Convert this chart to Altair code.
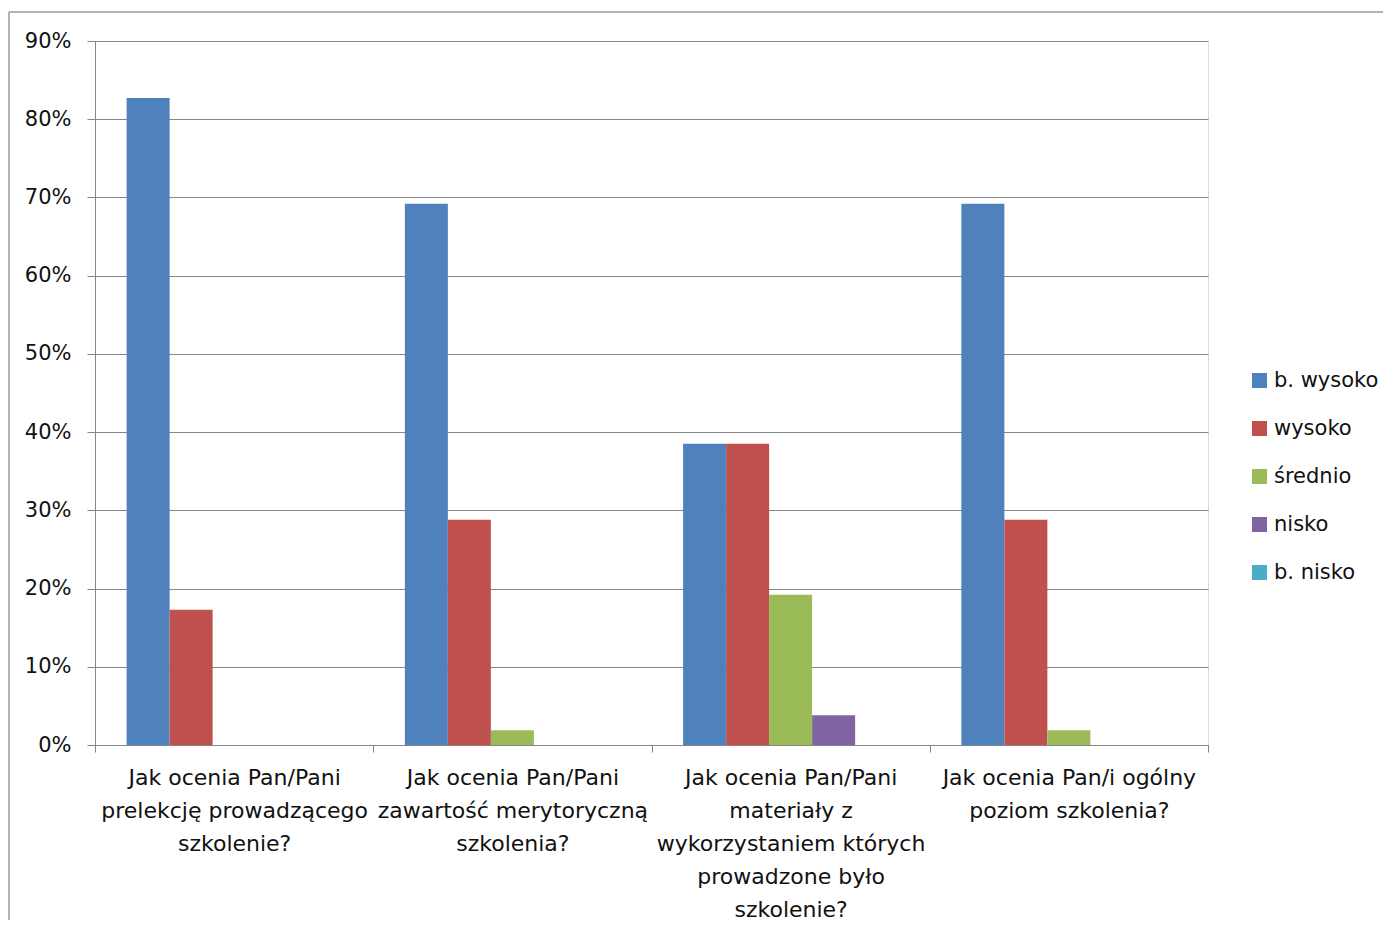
import altair as alt
import pandas as pd

categories = [
    "Jak ocenia Pan/Pani|prelekcję prowadzącego|szkolenie?",
    "Jak ocenia Pan/Pani|zawartość merytoryczną|szkolenia?",
    "Jak ocenia Pan/Pani|materiały z|wykorzystaniem których|prowadzone było|szkolenie?",
    "Jak ocenia Pan/i ogólny|poziom szkolenia?",
]
series = ["b. wysoko", "wysoko", "średnio", "nisko", "b. nisko"]
colors = ["#4F81BD", "#C0504D", "#9BBB59", "#8064A2", "#4BACC6"]

b_wysoko = [0.827, 0.692, 0.385, 0.692]
wysoko = [0.173, 0.288, 0.385, 0.288]
srednio = [0.0, 0.019, 0.192, 0.019]
nisko = [0.0, 0.0, 0.038, 0.0]
b_nisko = [0.0, 0.0, 0.0, 0.0]

rows = []
for s, vals in zip(series, [b_wysoko, wysoko, srednio, nisko, b_nisko]):
    for c, v in zip(categories, vals):
        rows.append({"pytanie": c, "ocena": s, "wartosc": v})
df = pd.DataFrame(rows)

FONT = "DejaVu Sans"
GRID = "#868686"
TXT = "#111111"

bars = alt.Chart(df).mark_bar().encode(
    x=alt.X(
        "pytanie:N",
        sort=categories,
        scale=alt.Scale(paddingInner=0, paddingOuter=0),
        axis=alt.Axis(
            title=None,
            labelAngle=0,
            labelExpr="split(datum.label, '|')",
            labelFont=FONT,
            labelFontSize=22,
            labelColor=TXT,
            labelLineHeight=33,
            labelPadding=15,
            labelBaseline="top",
            tickBand="extent",
            tickSize=7,
            tickColor=GRID,
            domainColor=GRID,
            labelLimit=400,
        ),
    ),
    xOffset=alt.XOffset(
        "ocena:N",
        sort=series,
        scale=alt.Scale(paddingInner=0, paddingOuter=0.735),
    ),
    y=alt.Y(
        "wartosc:Q",
        scale=alt.Scale(domain=[0, 0.9], nice=False),
        axis=alt.Axis(
            title=None,
            format=".0%",
            values=[0, 0.1, 0.2, 0.3, 0.4, 0.5, 0.6, 0.7, 0.8, 0.9],
            grid=True,
            gridColor=GRID,
            tickSize=8,
            tickColor=GRID,
            domainColor=GRID,
            labelFont=FONT,
            labelFontSize=21,
            labelColor=TXT,
            labelPadding=16,
        ),
    ),
    color=alt.Color(
        "ocena:N",
        sort=series,
        scale=alt.Scale(domain=series, range=colors),
        legend=alt.Legend(
            title=None,
            orient="none",
            legendX=1154,
            legendY=329,
            symbolType="square",
            symbolSize=225,
            symbolStrokeWidth=0,
            labelFont=FONT,
            labelFontSize=21,
            labelColor=TXT,
            labelOffset=4,
            labelLimit=200,
            rowPadding=26,
        ),
    ),
)

frame_left = alt.Chart().mark_rule(color="#999999", strokeWidth=1.5).encode(
    x=alt.value(-86), y=alt.value(-29), y2=alt.value(900)
)
frame_top = alt.Chart().mark_rule(color="#999999", strokeWidth=1.5).encode(
    x=alt.value(-86), x2=alt.value(1300), y=alt.value(-29)
)

chart = alt.layer(bars, frame_left, frame_top).properties(
    width=1113,
    height=704,
    autosize="none",
    padding={"left": 87, "top": 33, "right": 175, "bottom": 175},
).configure_view(stroke=None).configure(background="white")

chart.save("out.html", embed_options={"renderer": "svg", "actions": False})
